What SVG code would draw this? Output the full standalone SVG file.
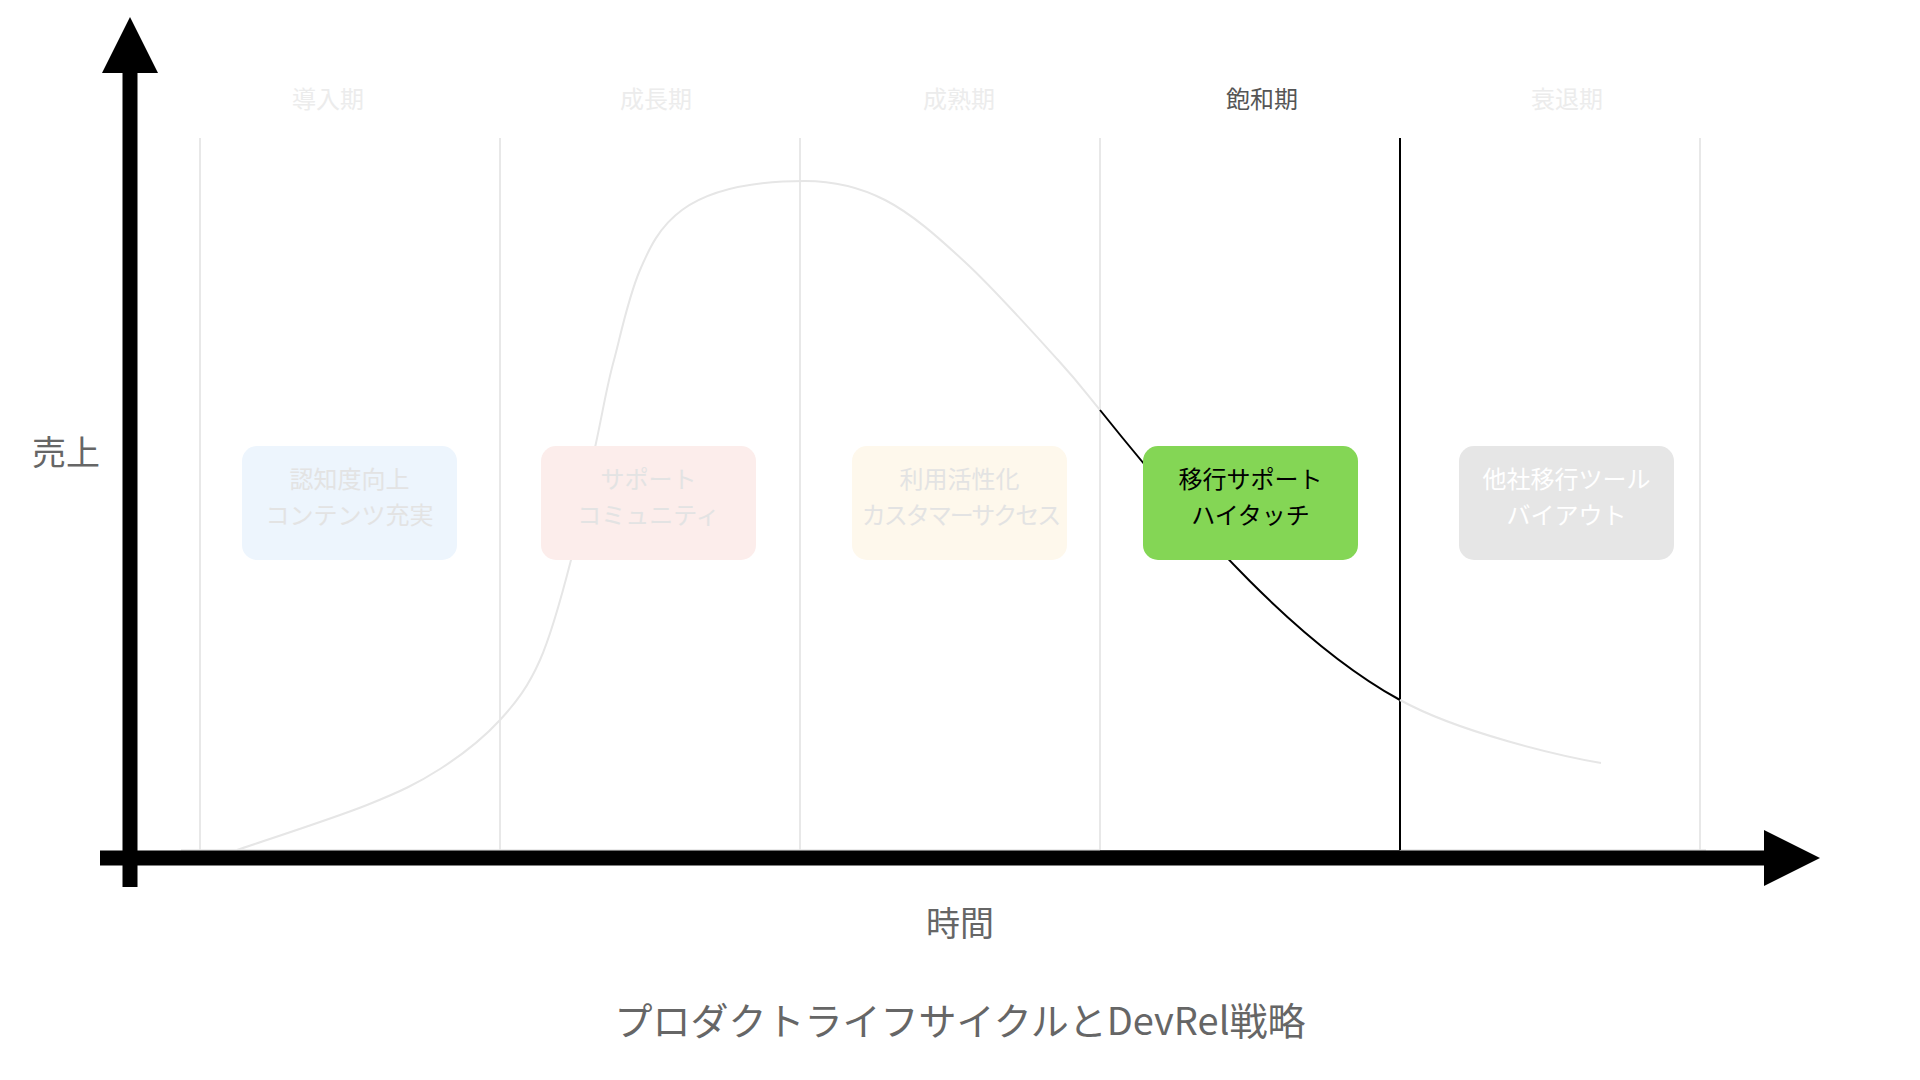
<svg xmlns="http://www.w3.org/2000/svg" width="1920" height="1080" viewBox="0 0 1920 1080">
<defs>
<style>
text{font-family:"Noto Sans CJK JP","Noto Sans",sans-serif;text-anchor:middle}
.grid{stroke:#e3e3e3;stroke-width:1.6;fill:none}
.phase{font-size:24px;fill:#ececec}
.phase.on{fill:#555555}
.box{rx:15;ry:15}
.bt{font-size:24px;fill:#e3e3e3}
.axis{stroke:#000;stroke-width:15;fill:none}
.lbl{font-size:34px;fill:#666666}
.curve{fill:none;stroke:#e6e6e6;stroke-width:2}
.curve.on{stroke:#000}
</style>
<marker id="ah" markerUnits="userSpaceOnUse" markerWidth="56" markerHeight="56" refX="0" refY="28" orient="auto">
<path d="M0,0 L56,28 L0,56 Z" fill="#000"/>
</marker>
</defs>
<rect width="1920" height="1080" fill="#ffffff"/>

<g id="grid">
<line class="grid" x1="200" y1="138" x2="200" y2="850"/>
<line class="grid" x1="500" y1="138" x2="500" y2="850"/>
<line class="grid" x1="800" y1="138" x2="800" y2="850"/>
<line class="grid" x1="1100" y1="138" x2="1100" y2="850"/>
<line class="grid" x1="1700" y1="138" x2="1700" y2="850"/>
<line class="grid" x1="181" y1="850" x2="1100" y2="850"/>
<line class="grid" x1="1400" y1="850" x2="1706" y2="850"/>
<line x1="1100" y1="850.5" x2="1400" y2="850.5" stroke="#777" stroke-width="1.2"/>
<line x1="1400" y1="138" x2="1400" y2="850" stroke="#000" stroke-width="2"/>
</g>

<g id="phases">
<text class="phase" x="328" y="108">導入期</text>
<text class="phase" x="656" y="108">成長期</text>
<text class="phase" x="959" y="108">成熟期</text>
<text class="phase on" x="1262" y="108">飽和期</text>
<text class="phase" x="1567" y="108">衰退期</text>
</g>

<g id="connectors">
<path class="curve" d="M237,850 C258.7,842.5 333.2,818.5 367,805 C400.8,791.5 417.8,783.2 440,769 C462.2,754.8 483.3,738.2 500,720 C516.7,701.8 528.2,686.7 540,660 C551.8,633.3 561.7,596.2 571,560 C580.3,523.8 588.8,476.3 596,443 C603.2,409.7 606.7,386.3 614,360 C620,338 628,298 640,270 C658,228 680,181 805,181 C832.2,181 858.2,186.3 885,200 C911.8,213.7 937.2,236.3 966,263 C994.8,289.7 1035.7,335.5 1058,360 C1080.3,384.5 1085.8,392.8 1100,410"/>
<path class="curve on" d="M1100,410 C1200,535 1300,645 1400,700"/>
<path class="curve" d="M1400,700 C1460,733 1561,756 1601,763"/>
</g>

<g id="node-intro">
<rect class="box" x="242" y="446" width="215" height="114" fill="#edf5fd"/>
<text class="bt" x="349.5" y="488">認知度向上</text>
<text class="bt" x="349.5" y="524">コンテンツ充実</text>
</g>
<g id="node-growth">
<rect class="box" x="541" y="446" width="215" height="114" fill="#fcedeb"/>
<text class="bt" x="648.5" y="488">サポート</text>
<text class="bt" x="648.5" y="524">コミュニティ</text>
</g>
<g id="node-maturity">
<rect class="box" x="852" y="446" width="215" height="114" fill="#fef8ec"/>
<text class="bt" x="959.5" y="488">利用活性化</text>
<text class="bt" x="960.5" y="524" style="letter-spacing:-2px">カスタマーサクセス</text>
</g>
<g id="node-saturation">
<rect class="box" x="1143" y="446" width="215" height="114" fill="#84d655"/>
<text class="bt" x="1250.5" y="488" style="fill:#000">移行サポート</text>
<text class="bt" x="1250.5" y="524" style="fill:#000">ハイタッチ</text>
</g>
<g id="node-decline">
<rect class="box" x="1459" y="446" width="215" height="114" fill="#e6e6e6"/>
<text class="bt" x="1566.5" y="488" style="fill:#ffffff">他社移行ツール</text>
<text class="bt" x="1566.5" y="524" style="fill:#ffffff">バイアウト</text>
</g>

<g id="axes">
<line class="axis" x1="130" y1="887" x2="130" y2="73" marker-end="url(#ah)"/>
<line class="axis" x1="100" y1="858" x2="1764" y2="858" marker-end="url(#ah)"/>
</g>

<g id="labels">
<text class="lbl" x="66" y="465">売上</text>
<text class="lbl" x="960" y="936">時間</text>
<text class="lbl" x="960" y="1035" style="font-size:38px">プロダクトライフサイクルとDevRel戦略</text>
</g>
</svg>
